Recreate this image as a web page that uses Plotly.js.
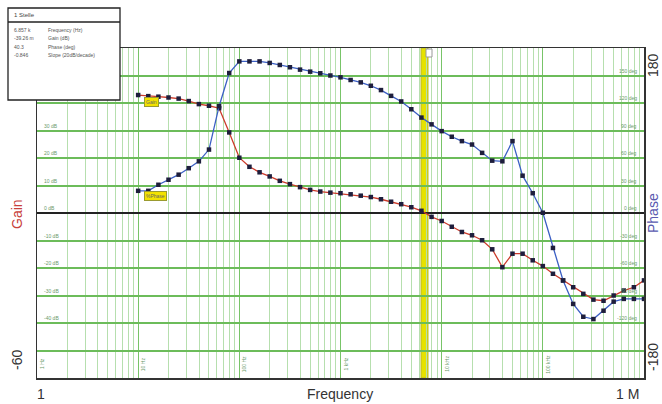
<!DOCTYPE html>
<html>
<head>
<meta charset="utf-8">
<script src="https://cdn.plot.ly/plotly-3.0.1.min.js"></script>
<style>html,body{margin:0;padding:0;background:#fff;}#chart{width:662px;height:404px;}</style>
</head>
<body>
<div id="chart"></div>
<script>
// Frequency points (Hz), 10 per decade from 10 Hz to 1 MHz
var freq = [10,12.59,15.85,19.95,25.12,31.62,39.81,50.12,63.10,79.43,
  100,125.9,158.5,199.5,251.2,316.2,398.1,501.2,631.0,794.3,
  1000,1259,1585,1995,2512,3162,3981,5012,6310,7943,
  10000,12589,15849,19953,25119,31623,39811,50119,63096,79433,
  100000,125893,158489,199526,251189,316228,398107,501187,630957,794328,1000000];

// Gain (dB)
var gainDb = [42.9,42.5,42.3,42.0,41.6,40.7,39.6,39.0,38.1,29.3,
  20.1,16.8,14.8,13.3,11.7,10.5,9.4,8.4,7.8,7.4,
  7.2,6.8,6.3,5.8,5.0,4.1,3.2,2.1,0.8,-1.4,
  -2.9,-5.0,-6.9,-8.1,-9.9,-13.2,-19.7,-14.8,-14.8,-17.2,
  -19.3,-22.1,-24.5,-27.0,-29.4,-31.5,-31.9,-30.0,-28.2,-27.0,-24.5];

// Phase (deg)
var phaseDeg = [24.2,24.2,30.8,36.3,41.8,48.9,56.4,69.2,116.5,152.7,
  165.4,165.4,165.4,163.7,161.5,159.0,156.4,154.2,152.4,150.0,
  148.0,145.1,142.5,138.8,134.1,127.8,121.7,113.2,104.1,96.7,
  89.3,83.2,78.4,74.7,65.6,57.1,56.4,78.4,40.7,21.6,
  0.3,-38.1,-73.6,-99.2,-113.2,-115.7,-106.6,-96.7,-93.7,-93.7,-93.7];

var gainGridLabels = [30,20,10,0,-10,-20,-30,-40];
var phaseGridLabels = [150,120,90,60,30,0,-30,-60,-90,-120];
var decadeExp = [0,1,2,3,4,5];
var decadeText = ["1 Hz","10 Hz","100 Hz","1 kHz","10 kHz","100 kHz"];
var infoLeft = ["6.857 k","-39.26 m","40.3","-0.846"];
var infoRight = ["Frequency (Hz)","Gain (dB)","Phase (deg)","Slope (20dB/decade)"];

var markerCol = "#1e1e3c";
var traces = [
  {x: freq, y: gainDb, type: "scatter", mode: "lines+markers", yaxis: "y",
   line: {color: "#cc3b2b", width: 1.3},
   marker: {symbol: "square", size: 4.5, color: markerCol}, hoverinfo: "skip"},
  {x: freq, y: phaseDeg, type: "scatter", mode: "lines+markers", yaxis: "y2",
   line: {color: "#3b5fc4", width: 1.3},
   marker: {symbol: "square", size: 4.5, color: markerCol}, hoverinfo: "skip"}
];

var L = 37, R = 644, T = 48, B = 378;
function px(p){ return (p - L) / (R - L); }
function py(p){ return (B - p) / (B - T); }

var ann = [];
var baseFont = "Liberation Sans, Arial, sans-serif";
function label(text, x, y, angle, color){
  ann.push({text: text, xref: "paper", yref: "paper", x: px(x), y: py(y), xanchor: "center", yanchor: "middle",
    showarrow: false, textangle: angle, font: {family: baseFont, size: 14, color: color}});
}
label("Gain", 17, 214, -90, "#c8403a");
label("Phase", 653, 213, -90, "#5a5ab0");
label("-60", 17, 360, -90, "#333");
label("180", 653, 65, -90, "#333");
label("-180", 653, 357, -90, "#333");
label("Frequency", 340, 394, 0, "#333");
label("1", 41, 394, 0, "#333");
label("1 M", 627, 394, 0, "#333");

gainGridLabels.forEach(function(v){
  ann.push({text: v + " dB", xref: "paper", yref: "y", x: 0.008, y: v, xanchor: "left", yanchor: "bottom",
    showarrow: false, font: {family: baseFont, size: 5, color: "#6a9a6a"}});
});
phaseGridLabels.forEach(function(v){
  ann.push({text: v + " deg", xref: "paper", yref: "y2", x: 0.992, y: v, xanchor: "right", yanchor: "bottom",
    showarrow: false, font: {family: baseFont, size: 5, color: "#6a9a6a"}});
});
decadeExp.forEach(function(e, i){
  ann.push({text: decadeText[i], xref: "x", yref: "paper", x: e, y: py(364), xshift: 5, textangle: -90,
    xanchor: "center", yanchor: "middle",
    showarrow: false, font: {family: baseFont, size: 5, color: "#6a9a6a"}});
});

// Yellow marker labels
ann.push({text: "Gain", xref: "paper", yref: "paper", x: px(151), y: py(102), showarrow: false,
  xanchor: "center", yanchor: "middle",
  bgcolor: "#f2e200", bordercolor: "#9a9a30", borderwidth: 1, borderpad: 1,
  font: {family: baseFont, size: 5, color: "#666"}});
ann.push({text: "%Phase", xref: "paper", yref: "paper", x: px(155), y: py(196), showarrow: false,
  xanchor: "center", yanchor: "middle",
  bgcolor: "#f2e200", bordercolor: "#9a9a30", borderwidth: 1, borderpad: 1,
  font: {family: baseFont, size: 5, color: "#666"}});

// Info box text
ann.push({text: "1 Stelle", xref: "paper", yref: "paper", x: px(12), y: py(15), xanchor: "left", yanchor: "middle",
  showarrow: false, font: {family: baseFont, size: 6, color: "#444"}});
infoLeft.forEach(function(t, i){
  var yy = 30 + i * 8.5;
  ann.push({text: t, xref: "paper", yref: "paper", x: px(12), y: py(yy), xanchor: "left", yanchor: "middle",
    showarrow: false, font: {family: baseFont, size: 5, color: "#555"}});
  ann.push({text: infoRight[i], xref: "paper", yref: "paper", x: px(46), y: py(yy), xanchor: "left", yanchor: "middle",
    showarrow: false, font: {family: baseFont, size: 5, color: "#555"}});
});

var shapes = [
  // cursor band
  {type: "rect", xref: "paper", yref: "paper", x0: px(421), x1: px(428), y0: 0, y1: 1,
   fillcolor: "#e6e200", line: {color: "#b8b830", width: 1}, layer: "below"},
  {type: "rect", xref: "paper", yref: "paper", x0: px(426), x1: px(432), y0: py(57), y1: py(49),
   fillcolor: "#ffffff", line: {color: "#999", width: 1}, layer: "above"},
  // info box
  {type: "rect", xref: "paper", yref: "paper", x0: px(8), x1: px(120), y0: py(100), y1: py(8),
   fillcolor: "#ffffff", line: {color: "#222", width: 1.3}, layer: "above"},
  {type: "line", xref: "paper", yref: "paper", x0: px(8), x1: px(120), y0: py(22), y1: py(22),
   line: {color: "#222", width: 1.3}, layer: "above"}
];

var layout = {
  width: 662, height: 404,
  margin: {l: L, r: 662 - R, t: T, b: 404 - B},
  paper_bgcolor: "#ffffff", plot_bgcolor: "#ffffff",
  showlegend: false,
  xaxis: {type: "log", range: [0, 6], dtick: 1, showticklabels: false, ticks: "",
    showgrid: true, gridcolor: "#78c468", gridwidth: 1.2,
    minor: {dtick: "D1", showgrid: true, gridcolor: "#b6dfae", gridwidth: 1},
    showline: true, linecolor: "#333", linewidth: 1.5, mirror: true, zeroline: false},
  yaxis: {range: [-60, 60], dtick: 10, showticklabels: false, ticks: "",
    showgrid: true, gridcolor: "#6cbc5a", gridwidth: 2,
    zeroline: true, zerolinecolor: "#222", zerolinewidth: 1.3,
    showline: true, linecolor: "#333", linewidth: 1.5, mirror: true},
  yaxis2: {range: [-180, 180], overlaying: "y", side: "right", showgrid: false, showticklabels: false,
    ticks: "", zeroline: false, showline: false},
  annotations: ann,
  shapes: shapes
};

Plotly.newPlot("chart", traces, layout, {staticPlot: true, displayModeBar: false});
</script>
</body>
</html>
